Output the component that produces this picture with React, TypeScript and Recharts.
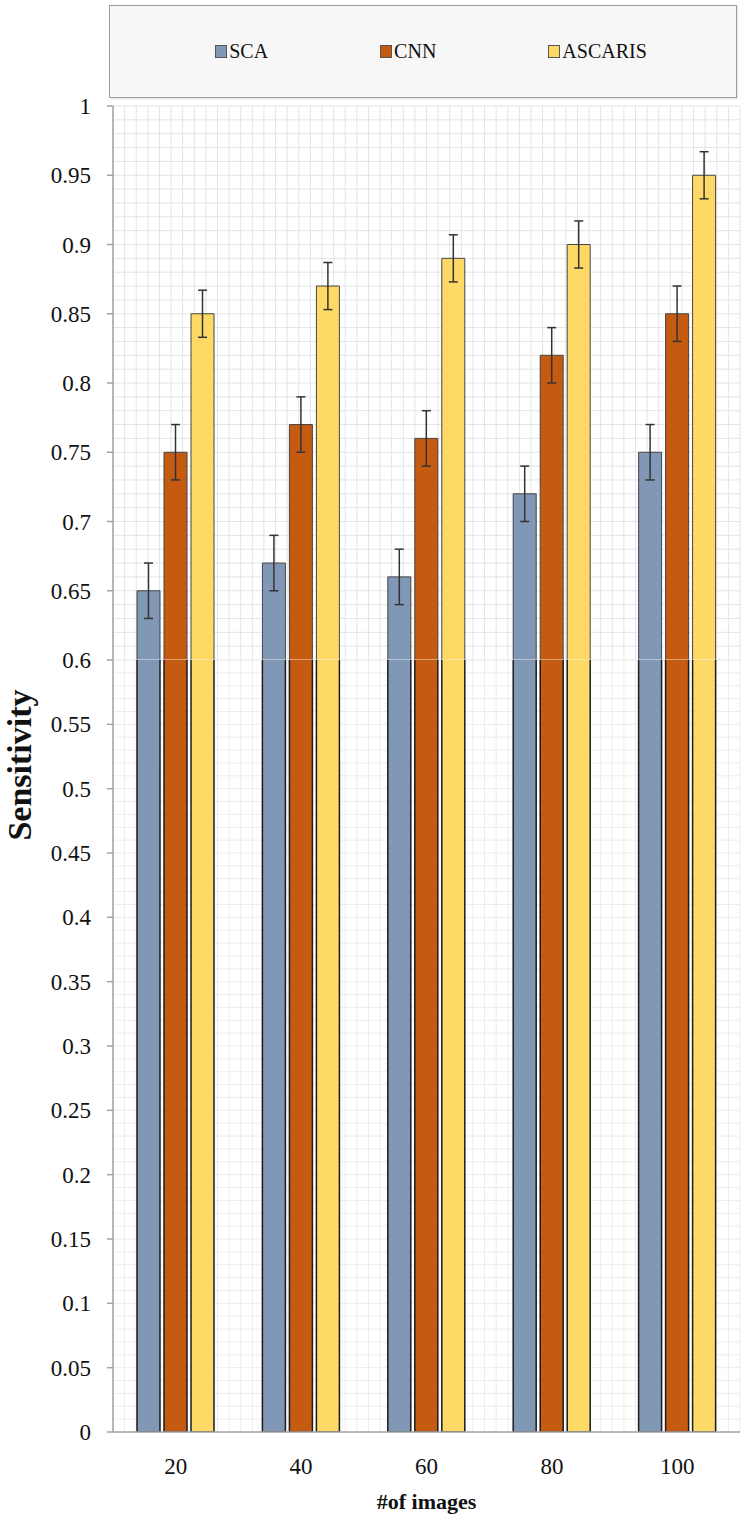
import React from "react";
import { Bar, BarChart, CartesianGrid, ErrorBar, Legend, XAxis, YAxis } from "recharts";

// The source picture is two Excel panels stitched at 0.6 (the upper part is
// stretched a bit more), so it is drawn as two stacked charts sharing x.
const SERIF = '"Liberation Serif", "Times New Roman", serif';

const COLORS = {
  sca: "#8097b5",
  cnn: "#c55a11",
  ascaris: "#ffd966",
  axis: "#a3a3a3",
  gridTop: "#e4e4e4",
  gridBottom: "#ececec",
  barEdgeTop: "#454545",
  barEdgeBottom: "#1c1c1c",
  text: "#111111",
};

const SERIES = ["SCA", "CNN", "ASCARIS"];
const CATEGORIES = ["20", "40", "60", "80", "100"];
const SCA = [0.65, 0.67, 0.66, 0.72, 0.75];
const CNN = [0.75, 0.77, 0.76, 0.82, 0.85];
const ASCARIS = [0.85, 0.87, 0.89, 0.9, 0.95];
const SCA_ERR = [0.02, 0.02, 0.02, 0.02, 0.02];
const CNN_ERR = [0.02, 0.02, 0.02, 0.02, 0.02];
const ASCARIS_ERR = [0.017, 0.017, 0.017, 0.017, 0.017];

const Y_TICKS = [
  0, 0.05, 0.1, 0.15, 0.2, 0.25, 0.3, 0.35, 0.4, 0.45, 0.5, 0.55, 0.6, 0.65,
  0.7, 0.75, 0.8, 0.85, 0.9, 0.95, 1,
];
const EDGE_TICKS = [0, 1, 2, 3, 4, 5];
const BREAK = 0.6;

// minor grid every 0.01
const MINOR = Array.from({ length: 101 }, (_, i) => i / 100);

const data = CATEGORIES.map((n, i) => ({
  n,
  sca: SCA[i],
  scaErr: SCA_ERR[i],
  cnn: CNN[i],
  cnnErr: CNN_ERR[i],
  ascaris: ASCARIS[i],
  ascarisErr: ASCARIS_ERR[i],
}));

const W = 753;
const AXIS_W = 113;
const RIGHT = 13;
const TOP_H = 660;
const BOTTOM_TOP = 620;
const BOTTOM_H = 904;
const BAR = 23;
const GAP = 4;

const tickStyle = { fontSize: 23, fontFamily: SERIF, fill: COLORS.text };

function verticalLines({ offset }: any): number[] {
  const n = 54;
  const step = offset.width / n;
  return Array.from({ length: n + 1 }, (_, i) => offset.left + i * step);
}

// upper part: sides and top only, so no line appears at the 0.6 seam
function OpenBottomBar(props: any) {
  const { x, y, width, height, fill } = props;
  if (width == null || height == null) return null;
  return (
    <g>
      <rect x={x} y={y} width={width} height={height} fill={fill} />
      <path
        d={`M${x},${y + height}V${y}H${x + width}V${y + height}`}
        fill="none"
        stroke={COLORS.barEdgeTop}
        strokeWidth={1}
      />
    </g>
  );
}

function LegendBox({ payload }: any) {
  const items = [...(payload || [])].sort(
    (a: any, b: any) => SERIES.indexOf(a.value) - SERIES.indexOf(b.value)
  );
  return (
    <div
      style={{
        display: "flex",
        justifyContent: "center",
        alignItems: "center",
        height: "100%",
        gap: 112,
        paddingLeft: 16,
        fontFamily: SERIF,
        fontSize: 20,
        color: COLORS.text,
      }}
    >
      {items.map((p: any) => (
        <span key={p.value} style={{ display: "flex", alignItems: "center" }}>
          <span
            style={{
              display: "inline-block",
              width: 10,
              height: 11,
              background: p.color,
              border: "1px solid #555",
              marginRight: 2,
            }}
          />
          {p.value}
        </span>
      ))}
    </div>
  );
}

export default function App() {
  return (
    <div
      style={{
        position: "absolute",
        left: 0,
        top: 0,
        width: W,
        height: 1524,
        background: "#ffffff",
        overflow: "hidden",
      }}
    >
      <div style={{ position: "absolute", left: 0, top: 0 }}>
        <BarChart
          width={W}
          height={TOP_H}
          data={data}
          margin={{ top: 13, right: RIGHT, bottom: 0, left: 0 }}
          barSize={BAR}
          barGap={GAP}
        >
          <CartesianGrid
            stroke={COLORS.gridTop}
            horizontalValues={MINOR.filter((v) => v >= BREAK)}
            syncWithTicks
            verticalCoordinatesGenerator={verticalLines}
          />
          <XAxis dataKey="n" hide />
          <YAxis
            type="number"
            domain={[BREAK, 1]}
            allowDataOverflow
            ticks={Y_TICKS.filter((v) => v > BREAK)}
            interval={0}
            width={AXIS_W}
            tick={tickStyle}
            tickSize={6}
            tickMargin={16}
            axisLine={{ stroke: COLORS.axis, strokeWidth: 1.5 }}
            tickLine={{ stroke: COLORS.axis, strokeWidth: 1.5 }}
          />
          <Legend
            verticalAlign="top"
            content={<LegendBox />}
            wrapperStyle={{
              top: 5,
              left: 109,
              width: 628,
              height: 93,
              boxSizing: "border-box",
              border: "1px solid #9c9c9c",
              background: "#f7f7f7",
              boxShadow: "1px 1px 2px rgba(0,0,0,0.12)",
            }}
          />
          <Bar dataKey="sca" name="SCA" fill={COLORS.sca} shape={OpenBottomBar} isAnimationActive={false}>
            <ErrorBar dataKey="scaErr" width={4.5} stroke="#333" strokeWidth={1.5} isAnimationActive={false} />
          </Bar>
          <Bar dataKey="cnn" name="CNN" fill={COLORS.cnn} shape={OpenBottomBar} isAnimationActive={false}>
            <ErrorBar dataKey="cnnErr" width={4.5} stroke="#333" strokeWidth={1.5} isAnimationActive={false} />
          </Bar>
          <Bar dataKey="ascaris" name="ASCARIS" fill={COLORS.ascaris} shape={OpenBottomBar} isAnimationActive={false}>
            <ErrorBar dataKey="ascarisErr" width={4.5} stroke="#333" strokeWidth={1.5} isAnimationActive={false} />
          </Bar>
        </BarChart>
      </div>

      <div style={{ position: "absolute", left: 0, top: BOTTOM_TOP }}>
        <BarChart
          width={W}
          height={BOTTOM_H}
          data={data}
          margin={{ top: 40, right: RIGHT, bottom: 8, left: 0 }}
          barSize={BAR}
          barGap={GAP}
        >
          <CartesianGrid
            stroke={COLORS.gridBottom}
            horizontalValues={MINOR.filter((v) => v <= BREAK)}
            syncWithTicks
            verticalCoordinatesGenerator={verticalLines}
          />
          <XAxis
            xAxisId="edge"
            type="number"
            domain={[0, 5]}
            ticks={EDGE_TICKS}
            interval={0}
            height={0}
            tick={false}
            axisLine={false}
            tickSize={7}
            tickLine={{ stroke: COLORS.axis, strokeWidth: 1.5 }}
          />
          <XAxis
            dataKey="n"
            height={84}
            tick={tickStyle}
            tickLine={false}
            tickSize={6}
            tickMargin={20}
            axisLine={{ stroke: COLORS.axis, strokeWidth: 1.5 }}
            label={{
              value: "#of images",
              position: "insideBottom",
              offset: 7,
              fontSize: 22,
              fontWeight: 700,
              fontFamily: SERIF,
              fill: COLORS.text,
            }}
          />
          <YAxis
            type="number"
            domain={[0, BREAK]}
            allowDataOverflow
            ticks={Y_TICKS.filter((v) => v <= BREAK)}
            interval={0}
            width={AXIS_W}
            tick={tickStyle}
            tickSize={6}
            tickMargin={16}
            axisLine={{ stroke: COLORS.axis, strokeWidth: 1.5 }}
            tickLine={{ stroke: COLORS.axis, strokeWidth: 1.5 }}
          />
          <Bar dataKey="sca" name="SCA" fill={COLORS.sca} stroke={COLORS.barEdgeBottom} strokeWidth={1.5} isAnimationActive={false} />
          <Bar dataKey="cnn" name="CNN" fill={COLORS.cnn} stroke={COLORS.barEdgeBottom} strokeWidth={1.5} isAnimationActive={false} />
          <Bar dataKey="ascaris" name="ASCARIS" fill={COLORS.ascaris} stroke={COLORS.barEdgeBottom} strokeWidth={1.5} isAnimationActive={false} />
        </BarChart>
      </div>

      <div
        style={{
          position: "absolute",
          left: 20,
          top: 765,
          transform: "translate(-50%, -50%) rotate(-90deg)",
          whiteSpace: "nowrap",
          fontFamily: SERIF,
          fontWeight: 700,
          fontSize: 34,
          color: COLORS.text,
        }}
      >
        Sensitivity
      </div>
    </div>
  );
}
